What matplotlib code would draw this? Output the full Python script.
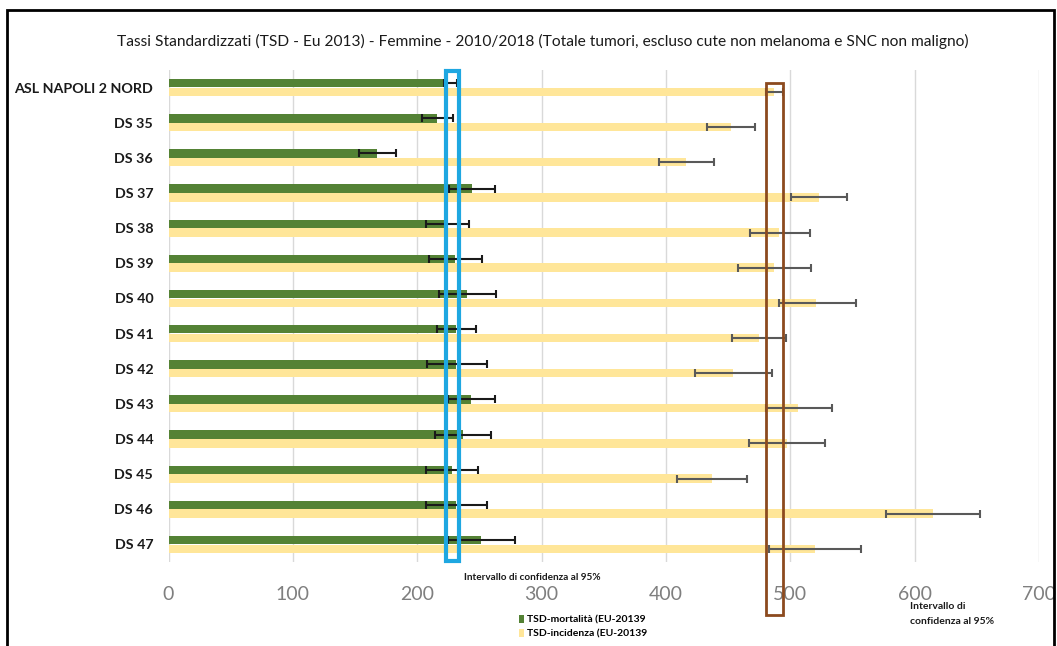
import matplotlib
matplotlib.use('Agg')
from matplotlib import pyplot as plt
from matplotlib import font_manager
from matplotlib.patches import Rectangle
from matplotlib import transforms
import numpy as np

# Dati: tassi standardizzati femmine, con intervalli di confidenza al 95%
distretti = ['ASL NAPOLI 2 NORD', 'DS 35', 'DS 36', 'DS 37', 'DS 38', 'DS 39', 'DS 40',
             'DS 41', 'DS 42', 'DS 43', 'DS 44', 'DS 45', 'DS 46', 'DS 47']

mortalita = [224.0, 216.0, 168.0, 243.7, 223.6, 230.3, 240.2,
             231.0, 231.0, 243.0, 237.0, 227.6, 231.0, 251.0]
mortalita_inf = [221.5, 203.5, 153.5, 225.7, 206.7, 209.4, 217.7,
                 216.0, 207.7, 225.0, 214.2, 206.7, 207.0, 225.0]
mortalita_sup = [231.7, 229.0, 183.0, 262.2, 241.6, 252.0, 263.0,
                 247.2, 255.8, 262.5, 259.2, 249.0, 255.8, 279.0]

incidenza = [487.0, 452.0, 416.5, 522.7, 491.0, 487.0, 521.0,
             475.0, 454.0, 506.6, 497.0, 437.0, 614.8, 519.7]
incidenza_inf = [480.3, 433.0, 394.5, 500.2, 467.7, 458.0, 491.0,
                 453.5, 423.5, 480.5, 466.6, 409.3, 577.3, 483.0]
incidenza_sup = [494.2, 471.5, 438.5, 546.0, 515.7, 516.5, 552.7,
                 496.6, 485.4, 533.4, 528.3, 465.0, 652.9, 556.7]

VERDE = '#548235'
GIALLO = '#FFE699'
AZZURRO = '#1EA7E1'
MARRONE = '#8C4A1E'

installati = {f.name for f in font_manager.fontManager.ttflist}
famiglia = [f for f in ['Liberation Sans Narrow', 'Lato', 'DejaVu Sans'] if f in installati]
plt.rcParams['font.family'] = famiglia

fig = plt.figure(figsize=(10.57, 6.46), dpi=100)
ax = fig.add_axes([168.5 / 1057, 1 - 562 / 646, (1039 - 168.5) / 1057, 492 / 646])

y = np.arange(len(distretti))
h = 0.24
off = 0.125

mort = np.array(mortalita)
inc = np.array(incidenza)
err_m = [mort - np.array(mortalita_inf), np.array(mortalita_sup) - mort]
err_i = [inc - np.array(incidenza_inf), np.array(incidenza_sup) - inc]

ax.barh(y - off, mort, height=h, color=VERDE, label='TSD-mortalità (EU-20139', zorder=2)
ax.barh(y + off, inc, height=h, color=GIALLO, label='TSD-incidenza (EU-20139', zorder=2)
ax.errorbar(mort, y - off, xerr=err_m, fmt='none', ecolor='#1a1a1a',
            elinewidth=1.5, capsize=3, capthick=1.5, zorder=3)
ax.errorbar(inc, y + off, xerr=err_i, fmt='none', ecolor='#595959',
            elinewidth=1.5, capsize=3, capthick=1.5, zorder=3)

ax.set_xlim(0, 700)
ax.set_ylim(len(distretti) - 0.5, -0.5)
ax.set_xticks(range(0, 701, 100))
ax.set_yticks(y)
ax.set_yticklabels(distretti, fontsize=10.3, fontweight='bold', color='#1a1a1a')
ax.tick_params(axis='x', labelsize=14, colors='#7f7f7f', length=0, pad=17)
ax.tick_params(axis='y', length=0, pad=11)

ax.grid(axis='x', color='#d9d9d9', linewidth=1, zorder=0)
ax.set_axisbelow(True)
for s in ax.spines.values():
    s.set_visible(False)

# riquadri sugli intervalli di confidenza dell'ASL
trans = transforms.blended_transform_factory(ax.transData, ax.transAxes)
ax.add_patch(Rectangle((mortalita_inf[0] + 2, 0.002), mortalita_sup[0] - mortalita_inf[0],
                       0.996, transform=trans, fill=False, edgecolor=AZZURRO,
                       linewidth=3, zorder=4, clip_on=False))
ax.add_patch(Rectangle((incidenza_inf[0], -0.108), incidenza_sup[0] - incidenza_inf[0],
                       0.108 + 0.9736, transform=trans, fill=False, edgecolor=MARRONE,
                       linewidth=2, zorder=4, clip_on=False))

fig.text(464 / 1057, 1 - 577 / 646, 'Intervallo di confidenza al 95%', fontsize=7.2,
         fontweight='bold', color='#1a1a1a', va='center', ha='left')
fig.text(910 / 1057, 1 - 614 / 646, 'Intervallo di\nconfidenza al 95%', fontsize=7.5,
         fontweight='bold', color='#1a1a1a', va='center', ha='left', linespacing=1.9)

fig.suptitle('Tassi Standardizzati (TSD - Eu 2013) - Femmine - 2010/2018 (Totale tumori, '
             'escluso cute non melanoma e SNC non maligno)',
             x=543 / 1057, y=1 - 41 / 646, va='center', fontsize=11.2, color='#1a1a1a')

fig.legend(loc='upper left', bbox_to_anchor=(519 / 1057, 1 - 615 / 646), frameon=False,
           handlelength=0.5, handleheight=0.8, handletextpad=0.3, labelspacing=0.45,
           borderpad=0, borderaxespad=0, prop={'size': 7.5, 'weight': 'bold'})

# cornice esterna
fig.add_artist(Rectangle((7 / 1057, -0.05), 1047 / 1057, 1.05 - 10 / 646,
                         transform=fig.transFigure, fill=False, edgecolor='black',
                         linewidth=2, clip_on=False))

fig.savefig('out.png', dpi=100)
